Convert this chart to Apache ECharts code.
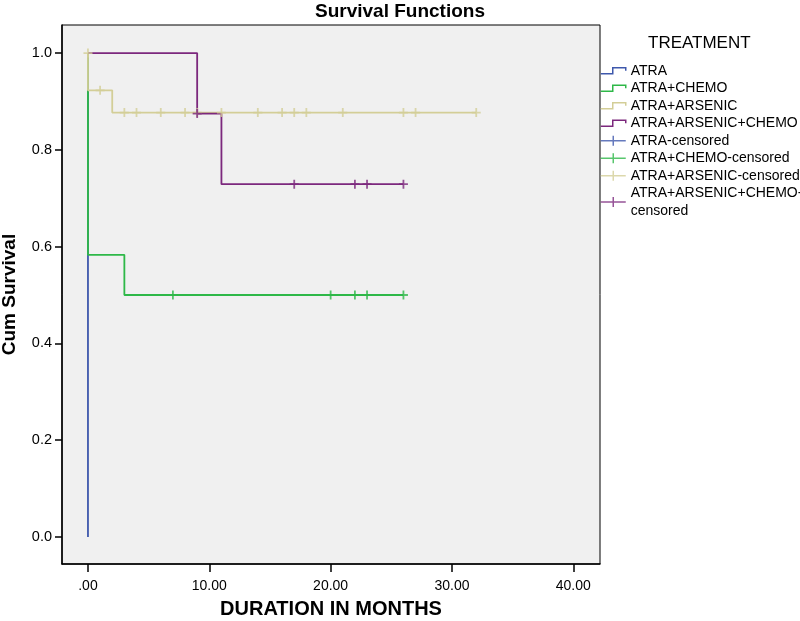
<!DOCTYPE html>
<html>
<head>
<meta charset="utf-8">
<script src="https://cdn.jsdelivr.net/npm/echarts@6/dist/echarts.min.js"></script>
<style>html,body{margin:0;padding:0;background:#fff}#c{width:800px;height:621px}</style>
</head>
<body>
<div id="c"></div>
<script>
// ---- data ----
const groupNames = ['ATRA', 'ATRA+CHEMO', 'ATRA+ARSENIC', 'ATRA+ARSENIC+CHEMO'];
const censoredNames = ['ATRA-censored', 'ATRA+CHEMO-censored', 'ATRA+ARSENIC-censored', 'ATRA+ARSENIC+CHEMO-censored'];

// step curves (time in months, cumulative survival)
const atraTimes = [0, 0];
const atraSurv = [1, 0];
const chemoTimes = [0, 0, 3, 26];
const chemoSurv = [1, 0.583, 0.5, 0.5];
const arsenicTimes = [0, 0, 2, 32];
const arsenicSurv = [1, 0.923, 0.877, 0.877];
const bothTimes = [0, 9, 11, 26];
const bothSurv = [1, 0.875, 0.729, 0.729];

// censored observations
const atraCensT = [];
const atraCensS = [];
const chemoCensT = [7, 20, 22, 23, 26];
const chemoCensS = [0.5, 0.5, 0.5, 0.5, 0.5];
const arsenicCensT = [0, 1, 3, 4, 6, 8, 9, 11, 14, 16, 17, 18, 21, 26, 27, 32];
const arsenicCensS = [1, 0.923, 0.877, 0.877, 0.877, 0.877, 0.877, 0.877, 0.877, 0.877, 0.877, 0.877, 0.877, 0.877, 0.877, 0.877];
const bothCensT = [9, 17, 22, 23, 26];
const bothCensS = [0.875, 0.729, 0.729, 0.729, 0.729];

// tick labels
const xTickValues = [0, 10, 20, 30, 40];
const xTickLabels = ['.00', '10.00', '20.00', '30.00', '40.00'];
const yTickValues = [0, 0.2, 0.4, 0.6, 0.8, 1.0];
const yTickLabels = ['0.0', '0.2', '0.4', '0.6', '0.8', '1.0'];

// ---- styling ----
const colors = ['#3e58ac', '#2eb848', '#d3ce97', '#7c287d'];
const FONT = 'Liberation Sans, Arial, sans-serif';
const zip = (t, s) => t.map((v, i) => [v, s[i]]);
const curves = [zip(atraTimes, atraSurv), zip(chemoTimes, chemoSurv), zip(arsenicTimes, arsenicSurv), zip(bothTimes, bothSurv)];
const cens = [zip(atraCensT, atraCensS), zip(chemoCensT, chemoCensS), zip(arsenicCensT, arsenicCensS), zip(bothCensT, bothCensS)];

const plusSymbol = 'path://M4,0H6V4H10V6H6V10H4V6H0V4H4Z';
const stepIcon = 'path://M0,8 L12,8 L12,2 L25,2 L25,5';
const plusIcon = 'path://M0,5 L25,5 M12.5,0 L12.5,10';

const series = [];
curves.forEach((d, i) => {
  series.push({
    name: groupNames[i], type: 'line', step: 'end', data: d, symbol: 'none',
    lineStyle: { color: colors[i], width: 1.8 }, itemStyle: { color: colors[i] },
    silent: true, z: 2 + i
  });
});
cens.forEach((d, i) => {
  series.push({
    name: censoredNames[i], type: 'scatter', data: d, symbol: plusSymbol, symbolSize: 9,
    itemStyle: { color: colors[i] }, silent: true, z: 10 + i
  });
});

const legendData = [];
groupNames.forEach((n, i) => legendData.push({ name: n, icon: stepIcon, itemStyle: { color: 'rgba(0,0,0,0)', borderColor: colors[i], borderWidth: 1.5 } }));
censoredNames.forEach((n, i) => legendData.push({ name: n, icon: plusIcon, itemStyle: { color: 'rgba(0,0,0,0)', borderColor: colors[i], borderWidth: 1.5 } }));

const chart = echarts.init(document.getElementById('c'), null, { renderer: 'canvas' });
chart.setOption({
  animation: false,
  backgroundColor: '#ffffff',
  title: [
    { text: 'Survival Functions', left: 'center', top: 2, padding: 0, textStyle: { fontFamily: FONT, fontSize: 19, fontWeight: 'bold', color: '#000' } },
    { text: 'TREATMENT', left: 648, top: 35, padding: 0, textStyle: { fontFamily: FONT, fontSize: 17, fontWeight: 'normal', color: '#000' } }
  ],
  legend: {
    orient: 'vertical', left: 600, top: 62, padding: 0, itemWidth: 25, itemHeight: 10, itemGap: 0,
    selectedMode: false,
    formatter: n => n === 'ATRA+ARSENIC+CHEMO-censored' ? 'ATRA+ARSENIC+CHEMO-\ncensored' : n,
    textStyle: { fontFamily: FONT, fontSize: 14, color: '#000', lineHeight: 17.5 },
    data: legendData
  },
  grid: { left: 62, right: 200, top: 25, bottom: 57, outerBoundsMode: 'none', containLabel: false,
    show: true, backgroundColor: '#f0f0f0', borderColor: '#000', borderWidth: 1 },
  xAxis: {
    type: 'value', min: -2.14, max: 42.2,
    name: 'DURATION IN MONTHS', nameLocation: 'middle', nameGap: 35,
    nameTextStyle: { fontFamily: FONT, fontSize: 20, fontWeight: 'bold', color: '#000' },
    axisLine: { show: true, onZero: false, lineStyle: { color: '#000', width: 1.5 } },
    axisTick: { show: true, length: 8, customValues: xTickValues, lineStyle: { color: '#000', width: 1.5 } },
    axisLabel: { customValues: xTickValues, margin: 15, fontFamily: FONT, fontSize: 14, color: '#000',
      formatter: v => xTickLabels[xTickValues.indexOf(v)] },
    splitLine: { show: false }
  },
  yAxis: {
    type: 'value', min: -0.056, max: 1.058,
    name: 'Cum Survival', nameLocation: 'middle', nameGap: 43,
    nameTextStyle: { fontFamily: FONT, fontSize: 19, fontWeight: 'bold', color: '#000' },
    axisLine: { show: true, onZero: false, lineStyle: { color: '#000', width: 1.5 } },
    axisTick: { show: true, length: 7, customValues: yTickValues, lineStyle: { color: '#000', width: 1.5 } },
    axisLabel: { customValues: yTickValues, margin: 10, fontFamily: FONT, fontSize: 14.5, color: '#000',
      formatter: v => yTickLabels[yTickValues.findIndex(t => Math.abs(t - v) < 1e-9)] },
    splitLine: { show: false }
  },
  series: series
});
</script>
</body>
</html>
